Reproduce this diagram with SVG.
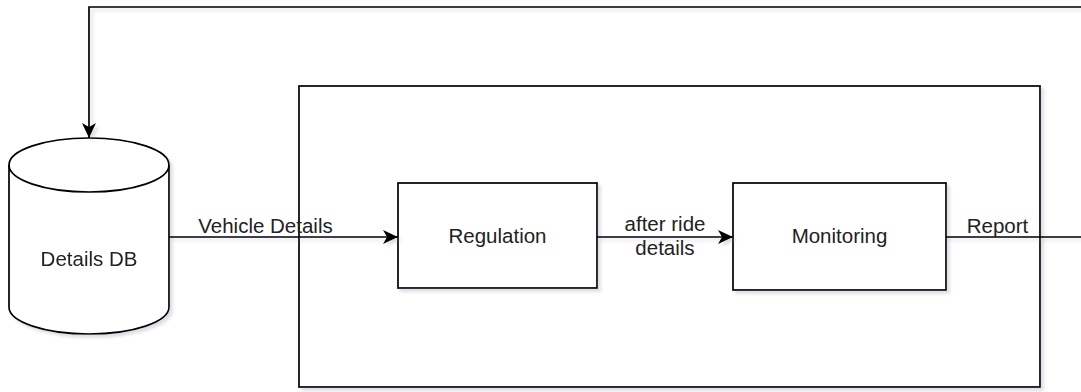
<svg xmlns="http://www.w3.org/2000/svg" width="1081" height="392" viewBox="0 0 1081 392">
<style>
.s{fill:#fff;stroke:#000;stroke-width:1.7}
.c{fill:none;stroke:#000;stroke-width:1.7}
.t{font-family:"Liberation Sans",Arial,sans-serif;font-size:20.5px;fill:#222;text-anchor:middle}
</style>
<defs>
<filter id="sh" x="-10%" y="-10%" width="130%" height="130%">
<feDropShadow dx="3" dy="3" stdDeviation="1.5" flood-color="#7a7a99" flood-opacity="0.25"/>
</filter>
<marker id="ar" markerUnits="userSpaceOnUse" markerWidth="16" markerHeight="16" refX="15" refY="7" orient="auto" viewBox="0 0 16 14">
<path d="M0,0 L15,7 L0,14 L4,7 Z" fill="#000"/>
</marker>
</defs>
<rect width="1081" height="392" fill="#fff"/>
<g id="container">
<rect class="s" x="299" y="86" width="741" height="301" filter="url(#sh)"/>
</g>
<g id="details-db" filter="url(#sh)">
<path class="s" d="M9,165 A80,27 0 0 1 169,165 V307 A80,27 0 0 1 9,307 Z"/>
<path class="c" d="M9,165 A80,27 0 0 0 169,165"/>
<text class="t" x="89" y="266">Details DB</text>
</g>
<g id="regulation">
<rect class="s" x="398" y="183" width="199" height="105" filter="url(#sh)"/>
<text class="t" x="497.5" y="243">Regulation</text>
</g>
<g id="monitoring">
<rect class="s" x="733" y="183" width="213" height="107" filter="url(#sh)"/>
<text class="t" x="839.5" y="243">Monitoring</text>
</g>
<g id="connectors" filter="url(#sh)">
<path class="c" d="M169,237 H398" marker-end="url(#ar)"/>
<path class="c" d="M597,237 H733" marker-end="url(#ar)"/>
<path class="c" d="M946,237 H1100 V7 H89 V138" marker-end="url(#ar)"/>
</g>
<g id="labels">
<text class="t" x="265.5" y="233">Vehicle Details</text>
<text class="t" x="665" y="231">after ride</text>
<text class="t" x="665" y="255">details</text>
<text class="t" x="997.5" y="233">Report</text>
</g>
</svg>
